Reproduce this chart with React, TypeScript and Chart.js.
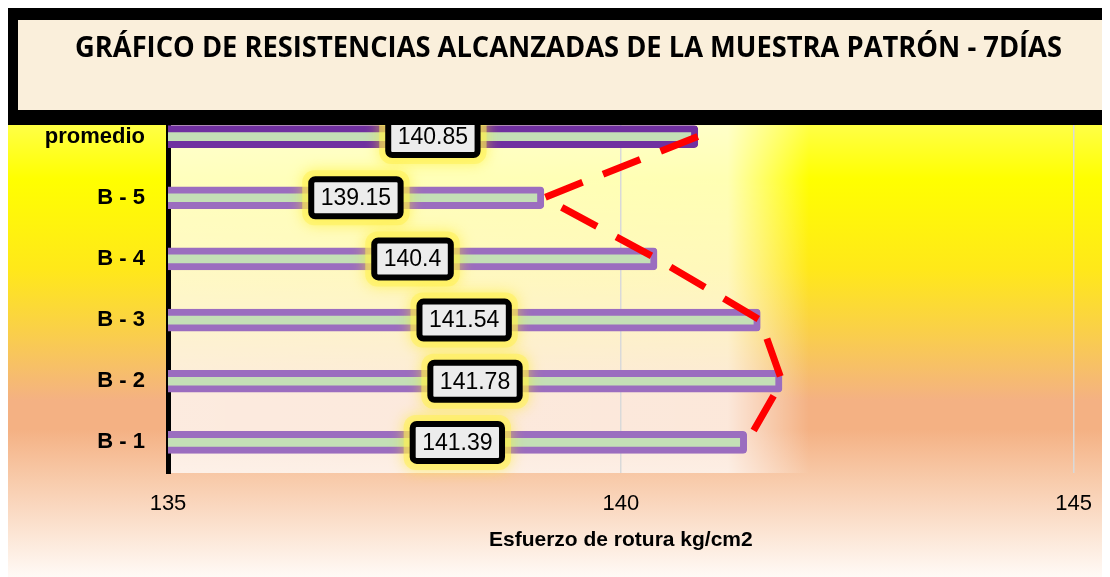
import React, { useEffect, useRef } from 'react';
import { Chart, registerables } from 'chart.js';

Chart.register(...registerables);

const categories: string[] = ['promedio', 'B - 5', 'B - 4', 'B - 3', 'B - 2', 'B - 1'];
const values: number[] = [140.85, 139.15, 140.4, 141.54, 141.78, 141.39];
const xMin = 135;
const xMax = 145;
const xStep = 5;
const chartTitle = 'GRÁFICO DE RESISTENCIAS ALCANZADAS DE LA MUESTRA PATRÓN - 7DÍAS';
const xAxisTitle = 'Esfuerzo de rotura kg/cm2';
const barBorderColors: string[] = ['#7030a0', '#9b6dbf', '#9b6dbf', '#9b6dbf', '#9b6dbf', '#9b6dbf'];

const W = 1102;
const H = 569;
const FONT = '"Liberation Sans", Arial, sans-serif';

function roundedRectPath(ctx: CanvasRenderingContext2D, x: number, y: number, w: number, h: number, r: number) {
  ctx.beginPath();
  ctx.moveTo(x + r, y);
  ctx.lineTo(x + w - r, y);
  ctx.arcTo(x + w, y, x + w, y + r, r);
  ctx.lineTo(x + w, y + h - r);
  ctx.arcTo(x + w, y + h, x + w - r, y + h, r);
  ctx.lineTo(x + r, y + h);
  ctx.arcTo(x, y + h, x, y + h - r, r);
  ctx.lineTo(x, y + r);
  ctx.arcTo(x, y, x + r, y, r);
  ctx.closePath();
}

const backgroundPlugin = {
  id: 'bgPlugin',
  beforeDraw(chart: any) {
    const { ctx, width, height, chartArea } = chart;
    ctx.save();
    const g = ctx.createLinearGradient(0, 0, 0, height);
    g.addColorStop(0, '#ffff60');
    g.addColorStop(0.214, '#ffff40');
    g.addColorStop(0.3, '#ffff00');
    g.addColorStop(0.46, '#ffe81a');
    g.addColorStop(0.566, '#fad048');
    g.addColorStop(0.69, '#f4b183');
    g.addColorStop(0.74, '#f4b183');
    g.addColorStop(0.83, '#f8cbab');
    g.addColorStop(1, '#fffaf6');
    ctx.fillStyle = g;
    ctx.fillRect(0, 0, width, height);

    // soft glow of the bars over the plot area
    const xs = chart.scales.x;
    const maxV = Math.max(...values);
    const fadeStart = xs.getPixelForValue(maxV - 0.6);
    const fadeEnd = xs.getPixelForValue(maxV + 0.3);
    const hg = ctx.createLinearGradient(chartArea.left, 0, fadeEnd, 0);
    const s = (fadeStart - chartArea.left) / (fadeEnd - chartArea.left);
    hg.addColorStop(0, 'rgba(255,255,255,0.74)');
    hg.addColorStop(s, 'rgba(255,255,255,0.7)');
    hg.addColorStop(1, 'rgba(255,255,255,0)');
    ctx.fillStyle = hg;
    ctx.fillRect(chartArea.left, chartArea.top, fadeEnd - chartArea.left, chartArea.bottom - chartArea.top);
    ctx.restore();
  },
};

const labelPlugin = {
  id: 'labelPlugin',
  afterDraw(chart: any) {
    const ctx: CanvasRenderingContext2D = chart.ctx;
    const meta = chart.getDatasetMeta(0);
    const xs = chart.scales.x;
    const left = xs.getPixelForValue(xMin);
    ctx.save();
    ctx.font = `23px ${FONT}`;
    meta.data.forEach((bar: any, i: number) => {
      const end = xs.getPixelForValue(values[i]);
      const cx = (end + left) / 2;
      const cy = bar.y;
      const text = String(values[i]);
      const tw = ctx.measureText(text).width;
      const w = tw + 25;
      const h = 43;
      const bw = 6;
      const x0 = cx - w / 2 + bw / 2;
      const y0 = cy - h / 2 + bw / 2;
      // yellow halo
      ctx.save();
      ctx.shadowColor = 'rgba(255,238,20,1)';
      ctx.shadowBlur = 14;
      ctx.fillStyle = 'rgba(255,240,90,0.55)';
      roundedRectPath(ctx, x0 - 9, y0 - 9, w - bw + 18, h - bw + 18, 12);
      ctx.fill();
      ctx.restore();
      ctx.fillStyle = '#ececec';
      roundedRectPath(ctx, x0, y0, w - bw, h - bw, 4);
      ctx.fill();
      ctx.lineWidth = bw;
      ctx.strokeStyle = '#000000';
      roundedRectPath(ctx, x0, y0, w - bw, h - bw, 4);
      ctx.stroke();
      ctx.fillStyle = '#000000';
      ctx.textAlign = 'center';
      ctx.textBaseline = 'middle';
      ctx.fillText(text, cx, cy + 1);
    });
    ctx.restore();

    // title box drawn on top
    const width = chart.width;
    ctx.save();
    ctx.fillStyle = '#000000';
    ctx.fillRect(0, 0, width, 117);
    ctx.fillStyle = '#faefdb';
    ctx.fillRect(10, 12, width - 10, 90);
    ctx.font = `bold 29px "Open Sans", ${FONT}`;
    const ttw = ctx.measureText(chartTitle).width;
    const sx = 987 / ttw;
    ctx.translate(560.5, 49);
    ctx.scale(sx, 1);
    ctx.fillStyle = '#000000';
    ctx.textAlign = 'center';
    ctx.textBaseline = 'alphabetic';
    ctx.fillText(chartTitle, 0, 0);
    ctx.restore();
  },
};

export default function App() {
  const ref = useRef<HTMLCanvasElement | null>(null);

  useEffect(() => {
    if (!ref.current) return;
    Chart.defaults.font.family = FONT;
    const chart = new Chart(ref.current, {
      type: 'bar',
      data: {
        labels: categories,
        datasets: [
          {
            type: 'bar',
            data: values,
            backgroundColor: '#c4dfb6',
            borderColor: barBorderColors,
            borderWidth: 7,
            borderRadius: 4,
            borderSkipped: false,
            barThickness: 22,
            order: 2,
          } as any,
          {
            type: 'line',
            data: values,
            borderColor: '#ff0000',
            borderWidth: 7,
            borderDash: [40, 22],
            borderCapStyle: 'butt',
            pointRadius: 0,
            fill: false,
            tension: 0,
            order: 1,
          } as any,
        ],
      },
      options: {
        indexAxis: 'y',
        responsive: false,
        animation: false,
        devicePixelRatio: 1,
        layout: { padding: { top: 98, right: 35, bottom: 0, left: 0 } },
        plugins: {
          legend: { display: false },
          tooltip: { enabled: false },
          title: { display: false },
        },
        scales: {
          x: {
            type: 'linear',
            min: xMin,
            max: xMax,
            ticks: {
              stepSize: xStep,
              padding: 18,
              color: '#000000',
              font: { size: 22, family: FONT },
            },
            grid: {
              color: '#d9d9d9',
              lineWidth: 1.5,
              drawTicks: false,
            },
            border: { display: false },
            title: {
              display: true,
              text: xAxisTitle,
              color: '#000000',
              font: { size: 21, weight: 'bold', family: FONT },
              padding: { top: 0, bottom: 24 },
            },
            afterFit(scale: any) {
              scale.height = 104;
            },
          },
          y: {
            type: 'category',
            ticks: {
              padding: 23,
              color: '#000000',
              font: { size: 22, weight: 'bold', family: FONT },
            },
            grid: { display: false, drawTicks: false },
            border: { display: true, color: '#000000', width: 5 },
            afterFit(scale: any) {
              scale.width = 160;
            },
          },
        },
      } as any,
      plugins: [backgroundPlugin, labelPlugin],
    });
    return () => chart.destroy();
  }, []);

  return (
    <div style={{ width: W, height: H }}>
      <canvas ref={ref} width={W} height={H} style={{ display: 'block' }} />
    </div>
  );
}
